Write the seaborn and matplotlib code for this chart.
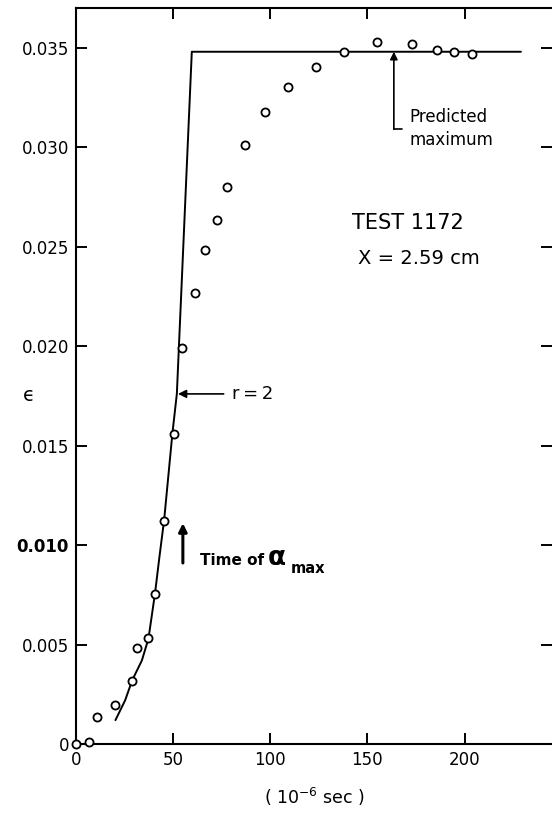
import matplotlib
matplotlib.use("Agg")
import matplotlib.pyplot as plt
import seaborn as sns
import pandas as pd

# ---- data ----
time_pts = [0, 6.9, 10.7, 20.3, 28.9, 31.4, 37.3, 40.7, 45.2, 50.2, 54.8, 61.3,
            66.3, 72.8, 77.8, 86.8, 97.4, 109.3, 123.4, 138.0, 154.8, 173.0,
            185.6, 194.8, 203.7]
strain_pts = [0, 0.0001, 0.00137, 0.00195, 0.00318, 0.00483, 0.00533, 0.00755,
              0.01123, 0.0156, 0.0199, 0.02267, 0.02485, 0.02632, 0.0280,
              0.03012, 0.03179, 0.03301, 0.03404, 0.03479, 0.0353, 0.03521,
              0.03487, 0.03477, 0.03469]

curve_t = [20.3, 25.3, 28.9, 33.9, 37.3, 40.7, 42.8, 45.4, 49.6, 51.9, 59.6, 229]
curve_e = [0.0012, 0.0022, 0.0032, 0.0042, 0.0053, 0.0076, 0.0093, 0.0113,
           0.0156, 0.0176, 0.0348, 0.0348]

x_ticks = [0, 50, 100, 150, 200]
y_ticks = [0, 0.005, 0.010, 0.015, 0.020, 0.025, 0.030, 0.035]
y_tick_labels = ["0", "0.005", "0.010", "0.015", "0.020", "0.025", "0.030", "0.035"]

sns.set_style("ticks")
plt.rcParams["font.family"] = ["DejaVu Sans"]
plt.rcParams.update({"text.color": "black", "axes.labelcolor": "black",
                     "xtick.color": "black", "ytick.color": "black"})

fig = plt.figure(figsize=(5.52, 8.15), dpi=100)
ax = fig.add_axes([0.1377, 0.0871, 0.8623, 0.9031])

pts = pd.DataFrame({"t": time_pts, "e": strain_pts})
cur = pd.DataFrame({"t": curve_t, "e": curve_e})

sns.lineplot(data=cur, x="t", y="e", sort=False, color="black", lw=1.4,
             estimator=None, ax=ax)
sns.scatterplot(data=pts, x="t", y="e", marker="o", s=34, facecolor="white",
                edgecolor="black", linewidth=1.3, zorder=3, clip_on=False, ax=ax)

ax.set_xlim(0, 245)
ax.set_ylim(0, 0.037)
ax.set_xticks(x_ticks)
ax.set_xticklabels([str(v) for v in x_ticks])
ax.set_yticks(y_ticks)
ax.set_yticklabels(y_tick_labels)
for lbl in ax.get_yticklabels():
    if lbl.get_text() == "0.010":
        lbl.set_fontweight("bold")

for s in ["left", "bottom", "top"]:
    ax.spines[s].set_linewidth(1.5)
    ax.spines[s].set_color("black")
ax.spines["right"].set_visible(False)

ax.tick_params(axis="both", direction="in", length=8, width=1.4, labelsize=12,
               top=True, right=True, pad=5, colors="black")

ax.set_xlabel("( 10$^{-6}$ sec )", fontsize=12.5, labelpad=12)
ax.set_ylabel("ϵ", fontsize=14, rotation=0)
ax.yaxis.set_label_coords(-0.10, 0.46)

# r = 2 annotation
ax.annotate("", xy=(52.5, 0.0176), xytext=(76, 0.0176),
            arrowprops=dict(arrowstyle="-|>", color="black", lw=1.2,
                            mutation_scale=12, shrinkA=0, shrinkB=0))
ax.text(80.3, 0.0176, "r\u2009=\u20092", fontsize=13, va="center", ha="left")

# Time of alpha max
ax.annotate("", xy=(55, 0.0111), xytext=(55, 0.0091),
            arrowprops=dict(arrowstyle="-|>", color="black", lw=2.2,
                            mutation_scale=12, shrinkA=0, shrinkB=0))
ax.text(63.9, 0.0090, "Time of", fontsize=11, fontweight="bold",
        va="baseline", ha="left")
ax.text(98.5, 0.0090, "α", fontsize=19, fontweight="bold",
        va="baseline", ha="left")
ax.text(110.5, 0.0086, "max", fontsize=10.5, fontweight="bold",
        va="baseline", ha="left")

# Predicted maximum
ax.plot([167.9, 163.6], [0.0309, 0.0309], color="black", lw=1.2)
ax.annotate("", xy=(163.6, 0.0348), xytext=(163.6, 0.0309),
            arrowprops=dict(arrowstyle="-|>", color="black", lw=1.2,
                            mutation_scale=11, shrinkA=0, shrinkB=0))
ax.text(171.5, 0.0315, "Predicted", fontsize=12, va="center", ha="left")
ax.text(171.5, 0.03038, "maximum", fontsize=12, va="center", ha="left")

ax.text(171, 0.02618, "TEST 1172", fontsize=15, va="center", ha="center")
ax.text(176.7, 0.02441, "X = 2.59 cm", fontsize=14, va="center", ha="center")

fig.savefig("out.png", dpi=100)
